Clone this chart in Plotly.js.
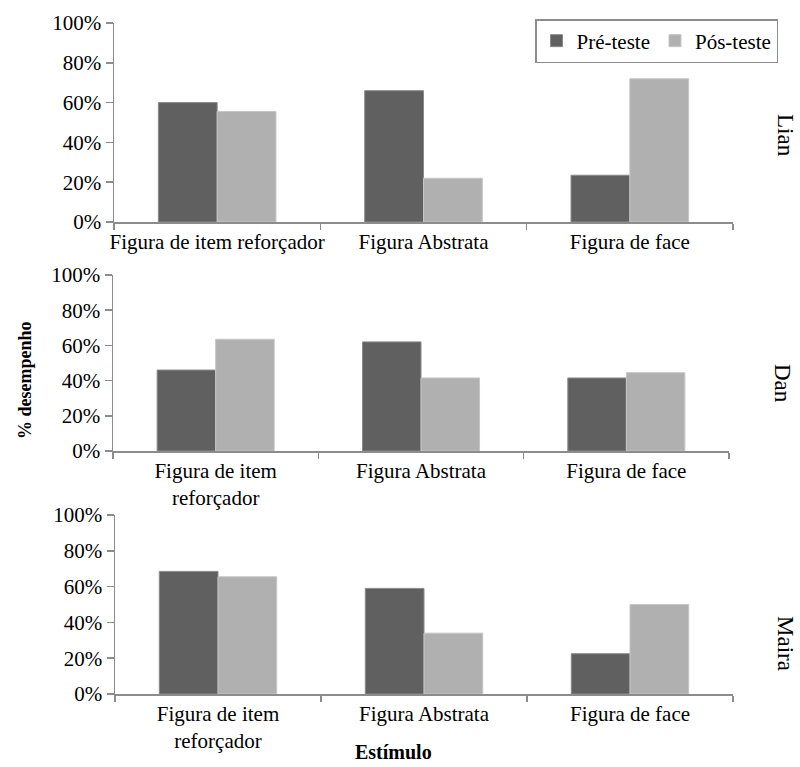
<!DOCTYPE html>
<html>
<head>
<meta charset="utf-8">
<script src="https://cdn.plot.ly/plotly-3.0.1.min.js"></script>
<style>
  html, body { margin: 0; padding: 0; background: #fff; }
  #chart { width: 800px; height: 767px; }
</style>
</head>
<body>
<div id="chart"></div>
<script>
// Stimulus categories and their two-line variants for the lower panels
const categories = ['Figura de item reforçador', 'Figura Abstrata', 'Figura de face'];
const wrappedLabels = ['Figura de item<br>reforçador', 'Figura Abstrata', 'Figura de face'];

// Participants (one panel each)
const participants = ['Lian', 'Dan', 'Maira'];

// Performance (proportion correct) per participant, per stimulus
const preLian = [0.60, 0.66, 0.235];
const posLian = [0.555, 0.22, 0.72];
const preDan = [0.46, 0.62, 0.415];
const posDan = [0.635, 0.415, 0.445];
const preMaira = [0.685, 0.59, 0.225];
const posMaira = [0.655, 0.34, 0.50];

const seriesNames = ['Pré-teste', 'Pós-teste'];
const yTicks = [0, 0.2, 0.4, 0.6, 0.8, 1.0];

const preColor = '#606060';
const posColor = '#b0b0b0';
const font = '"Liberation Serif", "Times New Roman", Times, serif';

const pre = [preLian, preDan, preMaira];
const pos = [posLian, posDan, posMaira];

const traces = [];
participants.forEach((p, i) => {
  const sfx = i === 0 ? '' : String(i + 1);
  traces.push({
    type: 'bar', name: seriesNames[0], x: categories, y: pre[i],
    xaxis: 'x' + sfx, yaxis: 'y' + sfx,
    marker: { color: preColor, line: { color: '#8a8a8a', width: 1 } },
    showlegend: i === 0, legendgroup: 'pre', hoverinfo: 'x+y'
  });
  traces.push({
    type: 'bar', name: seriesNames[1], x: categories, y: pos[i],
    xaxis: 'x' + sfx, yaxis: 'y' + sfx,
    marker: { color: posColor, line: { color: '#c6c6c6', width: 1 } },
    showlegend: i === 0, legendgroup: 'pos', hoverinfo: 'x+y'
  });
});

const H = 767, W = 800;
const fy = px => 1 - px / H;
const fx = px => px / W;

function xAxis(domain, anchor, labels) {
  return {
    domain: domain, anchor: anchor,
    type: 'category', categoryorder: 'array', categoryarray: categories,
    tickvals: categories, ticktext: labels, tickangle: 0,
    showline: true, linecolor: '#8c8c8c', linewidth: 1.5,
    ticks: 'outside', tickson: 'boundaries', ticklen: 6, tickcolor: '#8c8c8c', tickwidth: 1.5,
    showgrid: false, zeroline: false,
    tickfont: { family: font, size: 21, color: '#000' },
    fixedrange: true
  };
}
function yAxis(domain, anchor) {
  return {
    domain: domain, anchor: anchor, range: [0, 1],
    tickvals: yTicks, tickformat: '.0%',
    showline: true, linecolor: '#8c8c8c', linewidth: 1.5,
    ticks: 'outside', ticklen: 7, tickcolor: '#8c8c8c', tickwidth: 1.5,
    showgrid: false, zeroline: false,
    tickfont: { family: font, size: 21, color: '#000' },
    fixedrange: true
  };
}

function sideLabel(text, x, y, angle, size) {
  return {
    text: text, xref: 'paper', yref: 'paper', x: fx(x), y: fy(y),
    xanchor: 'center', yanchor: 'middle', textangle: angle, showarrow: false,
    font: { family: font, size: size, color: '#000' }
  };
}

const layout = {
  width: W, height: H, autosize: false,
  margin: { l: 0, r: 0, t: 0, b: 0 },
  paper_bgcolor: '#fff', plot_bgcolor: '#fff',
  barmode: 'group', bargap: 0.43, bargroupgap: 0,
  font: { family: font, color: '#000' },
  xaxis: xAxis([fx(114), fx(733)], 'y', categories),
  yaxis: yAxis([fy(222), fy(23)], 'x'),
  xaxis2: xAxis([fx(113), fx(729)], 'y2', wrappedLabels),
  yaxis2: yAxis([fy(451), fy(275)], 'x2'),
  xaxis3: xAxis([fx(115), fx(733)], 'y3', wrappedLabels),
  yaxis3: yAxis([fy(694), fy(515)], 'x3'),
  legend: {
    orientation: 'h', x: fx(778), xanchor: 'right', y: fy(19), yanchor: 'top',
    bordercolor: '#8c8c8c', borderwidth: 1.5, bgcolor: '#fff',
    font: { family: font, size: 21, color: '#000' },
    traceorder: 'normal', itemclick: false, itemdoubleclick: false
  },
  annotations: [
    sideLabel(participants[0], 785, 135, 90, 23),
    sideLabel(participants[1], 783, 383, 90, 23),
    sideLabel(participants[2], 786, 643, 90, 23),
    sideLabel('<b>% desempenho</b>', 25, 380, -90, 18),
    sideLabel('<b>Estímulo</b>', 393, 752, 0, 20)
  ]
};

Plotly.newPlot('chart', traces, layout, { displayModeBar: false, staticPlot: true });
</script>
</body>
</html>
